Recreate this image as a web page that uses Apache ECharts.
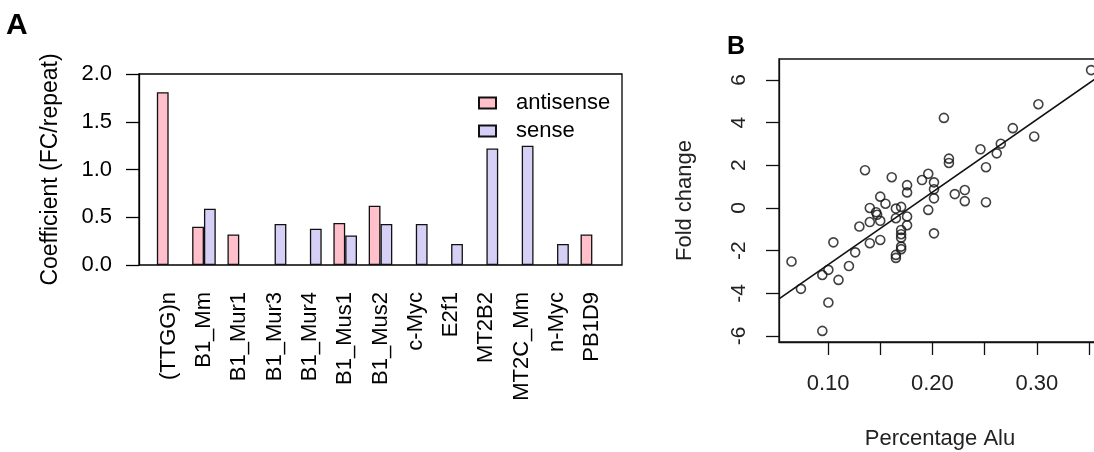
<!DOCTYPE html>
<html>
<head>
<meta charset="utf-8">
<script src="https://cdn.jsdelivr.net/npm/echarts@6/dist/echarts.min.js"></script>
<style>
  html, body { margin: 0; padding: 0; background: #fff; }
  #chart { width: 1094px; height: 452px; }
</style>
</head>
<body>
<div id="chart"></div>
<script>
// panel A: coefficient per repeat
const categories = ['(TTGG)n', 'B1_Mm', 'B1_Mur1', 'B1_Mur3', 'B1_Mur4', 'B1_Mus1', 'B1_Mus2',
  'c-Myc', 'E2f1', 'MT2B2', 'MT2C_Mm', 'n-Myc', 'PB1D9'];
const antisense = [1.81, 0.40, 0.32, '-', '-', 0.44, 0.62, '-', '-', '-', '-', '-', 0.32];
const sense = ['-', 0.59, '-', 0.43, 0.38, 0.31, 0.43, 0.43, 0.22, 1.22, 1.25, 0.22, '-'];
const coefTicks = [0, 0.5, 1.0, 1.5, 2.0];

// panel B: fold change vs percentage Alu
const pctAlu = [0.065, 0.074, 0.0945, 0.0945, 0.1003, 0.1003, 0.1051, 0.110, 0.120, 0.126,
  0.130, 0.1354, 0.140, 0.140, 0.140, 0.146, 0.147, 0.150, 0.150, 0.150,
  0.155, 0.161, 0.165, 0.165, 0.165, 0.165, 0.170, 0.170, 0.170, 0.170,
  0.170, 0.170, 0.1757, 0.1757, 0.1757, 0.1757, 0.190, 0.196, 0.196, 0.2015,
  0.2015, 0.2015, 0.2015, 0.211, 0.2158, 0.2158, 0.2214, 0.231, 0.231, 0.246,
  0.2513, 0.2513, 0.2616, 0.2655, 0.277, 0.2975, 0.3015, 0.352];
const foldChange = [-2.51, -3.79, -3.14, -5.76, -2.90, -4.43, -1.61, -3.37, -2.72, -2.08,
  -0.87, 1.77, 0.00, -0.66, -1.65, -0.20, -0.32, 0.53, -0.60, -1.50,
  0.20, 1.44, -0.03, -0.48, -2.20, -2.34, 0.05, -1.03, -1.23, -1.39,
  -1.81, -1.93, 1.07, 0.73, -0.40, -0.81, 1.31, 1.60, -0.09, 1.20,
  0.88, 0.45, -1.19, 4.22, 2.31, 2.11, 0.65, 0.84, 0.32, 2.75,
  1.91, 0.27, 2.56, 3.01, 3.74, 3.35, 4.86, 6.46];
const fitX = [0.053, 0.3615];
const fitY = [-4.26, 6.24];
const foldTicks = [-6, -4, -2, 0, 2, 4, 6];
const aluTicks = [0.10, 0.15, 0.20, 0.25, 0.30, 0.35];
const aluLabels = [0.10, 0.20, 0.30];

const FONT = "'Liberation Sans', Arial, sans-serif";
const pink = '#FFC0CB';
const lav = '#D6D0F6';

const chart = echarts.init(document.getElementById('chart'));

const option = {
  animation: false,
  textStyle: { fontFamily: FONT, color: '#000' },
  title: [
    { text: 'A', left: 6, top: 11, padding: 0, textStyle: { fontSize: 30, fontWeight: 'bold', fontFamily: FONT, color: '#000' } },
    { text: 'B', left: 727, top: 35, padding: 0, textStyle: { fontSize: 25, fontWeight: 'bold', fontFamily: FONT, color: '#000' } }
  ],
  legend: {
    orient: 'vertical',
    left: 478,
    top: 92,
    padding: 0,
    itemWidth: 17,
    itemHeight: 11,
    itemGap: 6,
    icon: 'rect',
    textStyle: { fontSize: 22, fontFamily: FONT, color: '#000', padding: [0, 0, 0, 15] },
    data: ['antisense', 'sense']
  },
  grid: [
    // bars
    { left: 151, top: 74, width: 459, height: 191, show: false, outerBoundsMode: 'none' },
    // panel A box + y axis
    { left: 139, top: 74, width: 483, height: 191, show: true, borderColor: '#000', borderWidth: 1.3, outerBoundsMode: 'none' },
    // panel B
    { left: 779, top: 59, right: -7, height: 283, show: true, borderColor: '#111', borderWidth: 1.3, outerBoundsMode: 'none' }
  ],
  xAxis: [
    {
      gridIndex: 0,
      type: 'category',
      data: categories,
      axisLine: { show: false },
      axisTick: { show: false },
      axisLabel: { interval: 0, rotate: 90, margin: 27, fontSize: 22, fontFamily: FONT, color: '#000' }
    },
    { gridIndex: 1, type: 'value', show: false },
    {
      gridIndex: 2,
      type: 'value',
      position: 'bottom',
      min: 0.053,
      max: 0.3615,
      name: 'Percentage Alu',
      nameLocation: 'middle',
      nameGap: 86,
      nameTextStyle: { fontSize: 22, fontFamily: FONT, color: '#222' },
      splitLine: { show: false },
      axisLine: { show: true, onZero: false, lineStyle: { color: '#111', width: 1.3 } },
      axisTick: { show: true, inside: false, length: 13, customValues: aluTicks, lineStyle: { color: '#111', width: 1.3 } },
      axisLabel: {
        customValues: aluLabels, margin: 31, fontSize: 22, fontFamily: FONT, color: '#222',
        formatter: v => v.toFixed(2)
      }
    }
  ],
  yAxis: [
    { gridIndex: 0, type: 'value', min: 0, max: 2, show: false },
    {
      gridIndex: 1,
      type: 'value',
      min: 0,
      max: 2,
      interval: 0.5,
      name: 'Coefficient (FC/repeat)',
      nameLocation: 'middle',
      nameGap: 77,
      nameTextStyle: { fontSize: 23, fontFamily: FONT, color: '#000' },
      splitLine: { show: false },
      axisLine: { show: true, lineStyle: { color: '#000', width: 1.3 } },
      axisTick: { show: true, length: 13, lineStyle: { color: '#000', width: 1.3 } },
      axisLabel: { margin: 27, fontSize: 22, fontFamily: FONT, color: '#000', customValues: coefTicks, formatter: v => v.toFixed(1) }
    },
    {
      gridIndex: 2,
      type: 'value',
      min: -6.28,
      max: 6.98,
      name: 'Fold change',
      nameLocation: 'middle',
      nameGap: 83,
      nameTextStyle: { fontSize: 22, fontFamily: FONT, color: '#222' },
      splitLine: { show: false },
      axisLine: { show: true, onZero: false, lineStyle: { color: '#111', width: 1.3 } },
      axisTick: { show: true, inside: false, length: 13, customValues: foldTicks, lineStyle: { color: '#111', width: 1.3 } },
      axisLabel: { customValues: foldTicks, rotate: 90, margin: 29, fontSize: 21, fontFamily: FONT, color: '#222' }
    }
  ],
  series: [
    {
      name: 'antisense',
      type: 'bar',
      xAxisIndex: 0,
      yAxisIndex: 0,
      barWidth: 11.8,
      barGap: '0%',
      itemStyle: { color: pink, borderColor: '#111', borderWidth: 1.3 },
      data: antisense
    },
    {
      name: 'sense',
      type: 'bar',
      xAxisIndex: 0,
      yAxisIndex: 0,
      barWidth: 11.8,
      barGap: '0%',
      itemStyle: { color: lav, borderColor: '#111', borderWidth: 1.3 },
      data: sense
    },
    {
      name: 'points',
      type: 'scatter',
      xAxisIndex: 2,
      yAxisIndex: 2,
      symbol: 'circle',
      symbolSize: 9,
      itemStyle: { color: 'rgba(0,0,0,0)', borderColor: '#111', borderWidth: 1.6 },
      data: pctAlu.map((x, i) => [x, foldChange[i]])
    },
    {
      name: 'fit',
      type: 'line',
      xAxisIndex: 2,
      yAxisIndex: 2,
      showSymbol: false,
      clip: true,
      lineStyle: { color: '#111', width: 1.6 },
      data: fitX.map((x, i) => [x, fitY[i]])
    }
  ]
};

chart.setOption(option);
</script>
</body>
</html>
